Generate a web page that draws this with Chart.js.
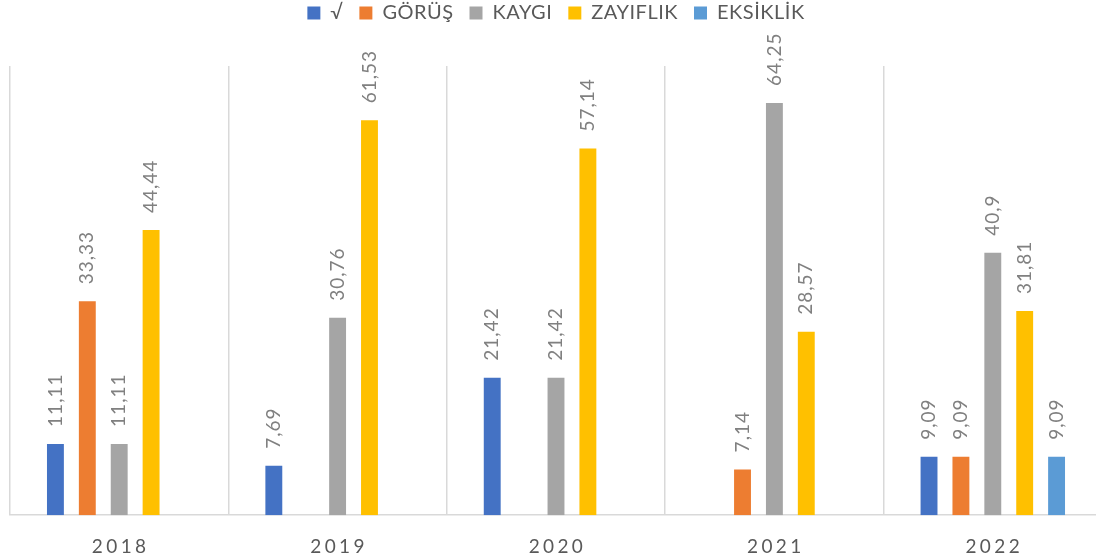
<!DOCTYPE html>
<html>
<head>
<meta charset="utf-8">
<script src="https://cdn.jsdelivr.net/npm/chart.js@4.4.1/dist/chart.umd.min.js"></script>
<style>
  html, body { margin: 0; padding: 0; background: #fff; overflow: hidden; }
  #wrap { position: absolute; left: 0; top: -13px; width: 1110px; height: 592px; }
</style>
</head>
<body>
<div id="wrap"><canvas id="chart"></canvas></div>
<script>
const years = ["2018", "2019", "2020", "2021", "2022"];
const seriesNames = ["√", "GÖRÜŞ", "KAYGI", "ZAYIFLIK", "EKSİKLİK"];
const seriesColors = ["#4472C4", "#ED7D31", "#A5A5A5", "#FFC000", "#5B9BD5"];

const tickValues = [11.11, 7.69, 21.42, null, 9.09];
const gorusValues = [33.33, null, null, 7.14, 9.09];
const kaygiValues = [11.11, 30.76, 21.42, 64.25, 40.9];
const zayiflikValues = [44.44, 61.53, 57.14, 28.57, 31.81];
const eksiklikValues = [null, null, null, null, 9.09];

const allValues = [tickValues, gorusValues, kaygiValues, zayiflikValues, eksiklikValues];

// slightly spaced-out text, like the original
const spacing = {
  id: "spacing",
  beforeUpdate(chart) { chart.ctx.letterSpacing = "0.5px"; },
  beforeLayout(chart) { chart.ctx.letterSpacing = "0.5px"; },
  beforeDraw(chart) { chart.ctx.letterSpacing = "0.5px"; }
};

const valueLabels = {
  id: "valueLabels",
  afterDatasetsDraw(chart) {
    const ctx = chart.ctx;
    chart.data.datasets.forEach((dataset, i) => {
      const meta = chart.getDatasetMeta(i);
      meta.data.forEach((bar, j) => {
        const v = dataset.data[j];
        if (v === null || v === undefined) return;
        ctx.save();
        ctx.font = "19px Lato";
        ctx.letterSpacing = "1px";
        ctx.fillStyle = "#808080";
        ctx.textAlign = "left";
        ctx.textBaseline = "middle";
        ctx.translate(bar.x, bar.y - 17);
        ctx.rotate(-Math.PI / 2);
        ctx.fillText(String(v).replace(".", ","), 0, 0);
        ctx.restore();
      });
    });
  }
};

const legendSpace = {
  id: "legendSpace",
  beforeInit(chart) {
    const fit = chart.legend.fit;
    chart.legend.fit = function () {
      fit.bind(chart.legend)();
      this.height += 33;
    };
  }
};

new Chart(document.getElementById("chart").getContext("2d"), {
  type: "bar",
  data: {
    labels: years.map((y) => y.split("").join("\u2009")),
    datasets: seriesNames.map((name, i) => ({
      label: name,
      data: allValues[i],
      backgroundColor: seriesColors[i],
      borderWidth: 0,
      categoryPercentage: 0.73,
      barPercentage: 0.53,
      skipNull: false
    }))
  },
  options: {
    responsive: true,
    maintainAspectRatio: false,
    animation: false,
    layout: { padding: { left: 10, right: 8, top: 0, bottom: 1 } },
    plugins: {
      legend: {
        position: "top",
        labels: {
          boxWidth: 13,
          boxHeight: 13,
          padding: 16,
          color: "#595959",
          font: { family: "Lato", size: 20 }
        }
      },
      tooltip: { enabled: false }
    },
    scales: {
      x: {
        grid: { color: "#D9D9D9", lineWidth: 1.5, drawTicks: false, offset: true },
        border: { color: "#D9D9D9", width: 1.5 },
        ticks: { color: "#595959", padding: 20, font: { family: "Lato", size: 19 } }
      },
      y: {
        display: false,
        min: 0,
        max: 70
      }
    }
  },
  plugins: [spacing, valueLabels, legendSpace]
});
</script>
</body>
</html>
